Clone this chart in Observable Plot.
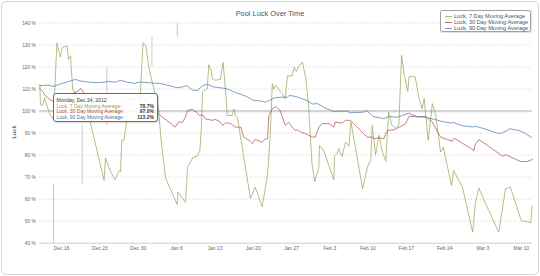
<!DOCTYPE html>
<html>
<head>
<meta charset="utf-8">
<script src="https://cdn.jsdelivr.net/npm/d3@7"></script>
<script src="https://cdn.jsdelivr.net/npm/@observablehq/plot@0.6"></script>
<style>
  body { margin: 0; background: #fff; font-family: "Liberation Sans", Arial, sans-serif; }
  #chart { position: relative; width: 540px; height: 276px; overflow: hidden; }
  #chart svg { position: absolute; left: 0; top: 0; }
  .frame { position: absolute; left: 1px; top: 1px; width: 536px; height: 272px; border: 1px solid #d6d6d6; border-radius: 5px; pointer-events: none; }
  .title { position: absolute; left: 0; top: 8.5px; width: 540px; text-align: center; font-size: 7.4px; color: #3E576F; white-space: nowrap; }
  .ytitle { position: absolute; left: 14px; top: 132px; transform: translate(-50%, -50%) rotate(-90deg); font-size: 5.6px; font-weight: bold; color: #4d759e; white-space: nowrap; }
  .legend { position: absolute; left: 440px; top: 10px; width: 89px; height: 20px; border: 1px solid #a0a0a0; border-radius: 2.5px; background: #fff; box-shadow: 0.5px 0.5px 1px rgba(0,0,0,0.12); }
  .legend .item { position: absolute; left: 4px; height: 6px; line-height: 6px; font-size: 5.6px; color: #3E576F; white-space: nowrap; }
  .legend .swatch { display: inline-block; width: 7px; height: 0; border-top: 1px solid; vertical-align: middle; margin-right: 2px; position: relative; top: -0.5px; opacity: 0.75; }
  .tooltip { position: absolute; left: 53px; top: 93px; width: 103px; height: 27px; border: 1px solid #4572A7; border-radius: 3px; background: rgba(255,255,255,0.88); box-shadow: 1px 1px 1.5px rgba(0,0,0,0.15); font-size: 5px; }
  .tooltip .row { position: absolute; left: 2.5px; right: 3px; height: 6px; line-height: 6px; white-space: nowrap; }
  .tooltip .row b { position: absolute; right: 0; color: #333; }
</style>
</head>
<body>
<div id="chart"></div>
<script>
// Luck moving averages, sampled irregularly (timestamps are UTC, "YYYY-MM-DD HH")
const sevenDayDates = [
  "2012-12-12 00","2012-12-12 03","2012-12-12 12","2012-12-12 21","2012-12-13 18","2012-12-14 12",
  "2012-12-15 03","2012-12-15 18","2012-12-16 03","2012-12-17 00","2012-12-17 06","2012-12-17 15",
  "2012-12-18 00","2012-12-19 12","2012-12-21 03","2012-12-23 18","2012-12-24 00","2012-12-24 21",
  "2012-12-25 18","2012-12-26 12","2012-12-26 18","2012-12-27 00","2012-12-27 09","2012-12-27 15",
  "2012-12-28 00","2012-12-29 03","2012-12-30 06","2012-12-30 21","2012-12-31 09","2012-12-31 21",
  "2013-01-01 18","2013-01-02 12","2013-01-02 18","2013-01-03 03","2013-01-04 00","2013-01-06 03",
  "2013-01-06 06","2013-01-07 09","2013-01-07 15","2013-01-08 00","2013-01-09 00","2013-01-09 18",
  "2013-01-10 06","2013-01-10 12","2013-01-10 18","2013-01-11 00","2013-01-11 15","2013-01-11 21",
  "2013-01-12 09","2013-01-12 12","2013-01-13 03","2013-01-14 00","2013-01-14 12","2013-01-15 00",
  "2013-01-15 06","2013-01-16 03","2013-01-16 12","2013-01-16 18","2013-01-17 03","2013-01-19 12",
  "2013-01-20 09","2013-01-20 18","2013-01-21 15","2013-01-22 00","2013-01-22 15","2013-01-23 03",
  "2013-01-23 12","2013-01-23 18","2013-01-24 03","2013-01-24 15","2013-01-25 06","2013-01-25 21",
  "2013-01-26 06","2013-01-27 03","2013-01-27 12","2013-01-27 21","2013-01-28 09","2013-01-29 00",
  "2013-01-29 15","2013-01-30 03","2013-01-30 18","2013-01-31 06","2013-01-31 18","2013-02-01 00",
  "2013-02-01 03","2013-02-01 21","2013-02-03 18","2013-02-03 21","2013-02-04 09","2013-02-04 15",
  "2013-02-05 06","2013-02-05 21","2013-02-06 12","2013-02-06 21","2013-02-09 00","2013-02-09 21",
  "2013-02-10 12","2013-02-10 18","2013-02-11 09","2013-02-12 00","2013-02-12 15","2013-02-13 06",
  "2013-02-13 18","2013-02-14 09","2013-02-15 00","2013-02-15 15","2013-02-16 03","2013-02-16 15",
  "2013-02-17 06","2013-02-17 12","2013-02-18 03","2013-02-18 15","2013-02-19 06","2013-02-19 21",
  "2013-02-20 06","2013-02-21 00","2013-02-21 18","2013-02-22 09","2013-02-23 06","2013-02-23 18",
  "2013-02-25 06","2013-02-25 15","2013-02-27 06","2013-03-01 03","2013-03-01 15","2013-03-02 06",
  "2013-03-03 12","2013-03-05 21","2013-03-07 03","2013-03-08 00","2013-03-10 00","2013-03-11 18",
  "2013-03-12 00"
];
const sevenDayLuck = [
  112.0, 103.0, 102.5, 106.0, 99.0, 96.0,
  131.0, 124.5, 129.0, 129.5, 123.5, 125.0,
  110.0, 104.0, 96.0, 68.5, 78.7, 72.8,
  68.8, 73.0, 72.3, 86.7, 86.7, 91.0,
  98.0, 100.0, 102.0, 131.0, 129.8, 120.5,
  111.0, 104.0, 99.5, 88.0, 69.5, 57.5,
  63.3, 59.4, 58.6, 74.5, 79.0, 79.4,
  82.0, 91.0, 108.6, 109.4, 110.2, 121.0,
  118.0, 114.7, 114.0, 114.5, 122.0, 108.0,
  98.0, 98.0, 101.0, 98.0, 97.0, 60.3,
  65.4, 63.0, 56.5, 61.8, 71.0, 89.0,
  112.4, 110.0, 111.6, 110.0, 108.0, 105.6,
  116.0, 116.0, 120.0, 118.0, 120.5, 122.2,
  114.7, 102.6, 76.0, 68.0, 72.5, 74.5,
  84.4, 82.1, 68.8, 79.4, 80.9, 82.9,
  79.4, 85.9, 84.0, 95.0, 64.7, 74.5,
  78.0, 93.5, 80.0, 89.0, 81.4, 77.2,
  99.5, 93.5, 92.3, 93.5, 125.3, 116.2,
  109.0, 115.5, 115.8, 115.5, 106.4, 101.1,
  105.6, 86.7, 103.4, 98.0, 81.4, 83.6,
  66.2, 73.0, 65.5, 45.0, 58.6, 65.0,
  57.9, 45.0, 64.7, 65.5, 50.3, 49.3,
  57.0
];

const thirtyDayDates = [
  "2012-12-12 00","2012-12-12 12","2012-12-13 00","2012-12-14 00","2012-12-14 21","2012-12-15 18",
  "2012-12-16 18","2012-12-17 15","2012-12-18 09","2012-12-18 21","2012-12-19 12","2012-12-20 00",
  "2012-12-20 21","2012-12-22 03","2012-12-24 00","2012-12-25 06","2012-12-26 18","2012-12-28 00",
  "2012-12-29 00","2012-12-30 00","2012-12-31 09","2013-01-01 06","2013-01-02 03","2013-01-02 18",
  "2013-01-03 09","2013-01-04 15","2013-01-05 18","2013-01-06 09","2013-01-07 03","2013-01-07 15",
  "2013-01-08 00","2013-01-08 21","2013-01-09 18","2013-01-10 03","2013-01-10 18","2013-01-11 06",
  "2013-01-12 12","2013-01-13 03","2013-01-14 00","2013-01-14 09","2013-01-15 00","2013-01-15 21",
  "2013-01-16 18","2013-01-17 18","2013-01-18 06","2013-01-19 06","2013-01-19 21","2013-01-20 09",
  "2013-01-21 15","2013-01-22 06","2013-01-22 15","2013-01-22 21","2013-01-23 12","2013-01-24 03",
  "2013-01-24 21","2013-01-25 21","2013-01-26 12","2013-01-27 03","2013-01-27 18","2013-01-28 03",
  "2013-01-28 15","2013-01-29 15","2013-01-30 18","2013-01-31 09","2013-02-01 00","2013-02-01 15",
  "2013-02-02 21","2013-02-03 18","2013-02-04 00","2013-02-05 06","2013-02-05 21","2013-02-06 18",
  "2013-02-07 09","2013-02-08 00","2013-02-08 15","2013-02-09 06","2013-02-09 21","2013-02-10 18",
  "2013-02-11 00","2013-02-12 00","2013-02-12 21","2013-02-13 12","2013-02-14 18","2013-02-15 09",
  "2013-02-16 00","2013-02-16 21","2013-02-17 12","2013-02-18 09","2013-02-19 00","2013-02-19 21",
  "2013-02-20 12","2013-02-21 00","2013-02-21 18","2013-02-23 06","2013-02-25 09","2013-02-25 18",
  "2013-03-01 09","2013-03-01 12","2013-03-02 06","2013-03-06 15","2013-03-07 03","2013-03-09 21",
  "2013-03-11 03","2013-03-12 00"
];
const thirtyDayLuck = [
  110.2, 109.0, 107.0, 105.0, 104.0, 105.5,
  106.0, 107.0, 108.5, 109.0, 110.2, 108.6,
  105.0, 101.0, 97.0, 99.0, 102.0, 106.0,
  105.0, 106.5, 105.0, 103.0, 99.5, 98.8,
  97.3, 95.0, 92.7, 95.0, 95.0, 97.3,
  100.3, 100.8, 99.3, 98.0, 98.3, 96.5,
  95.8, 96.2, 95.0, 93.5, 94.7, 94.3,
  92.7, 92.7, 88.2, 86.7, 85.2, 87.1,
  85.9, 87.4, 87.4, 98.0, 101.1, 102.0,
  100.5, 93.5, 95.0, 92.7, 91.2, 91.5,
  90.5, 89.7, 88.2, 88.2, 92.7, 94.3,
  94.3, 92.7, 95.0, 94.5, 95.8, 95.8,
  94.3, 92.7, 91.2, 89.5, 88.2, 88.2,
  87.4, 87.9, 87.4, 91.2, 91.5, 92.3,
  93.0, 94.3, 97.6, 97.6, 97.3, 97.5,
  97.6, 96.5, 95.0, 88.2, 86.3, 87.7,
  82.1, 84.4, 87.1, 79.5, 80.2, 77.1,
  77.1, 78.0
];

const ninetyDayDates = [
  "2012-12-12 00","2012-12-13 09","2012-12-14 12","2012-12-15 18","2012-12-17 00","2012-12-18 12",
  "2012-12-19 12","2012-12-20 18","2012-12-22 12","2012-12-24 00","2012-12-24 12","2012-12-25 21",
  "2012-12-26 18","2012-12-27 21","2012-12-29 06","2012-12-30 09","2013-01-01 06","2013-01-03 03",
  "2013-01-04 21","2013-01-06 03","2013-01-07 03","2013-01-07 21","2013-01-08 21","2013-01-09 21",
  "2013-01-10 18","2013-01-11 15","2013-01-12 18","2013-01-13 21","2013-01-15 03","2013-01-17 00",
  "2013-01-18 18","2013-01-19 21","2013-01-21 09","2013-01-22 06","2013-01-23 00","2013-01-23 21",
  "2013-01-25 00","2013-01-26 06","2013-01-26 15","2013-01-27 21","2013-01-29 15","2013-01-30 21",
  "2013-01-31 18","2013-02-02 06","2013-02-03 18","2013-02-05 00","2013-02-06 03","2013-02-06 18",
  "2013-02-09 03","2013-02-09 18","2013-02-11 00","2013-02-12 21","2013-02-13 18","2013-02-15 09",
  "2013-02-16 06","2013-02-17 09","2013-02-18 21","2013-02-20 21","2013-02-22 00","2013-02-23 15",
  "2013-02-25 03","2013-02-25 12","2013-02-27 06","2013-03-01 03","2013-03-01 15","2013-03-03 12",
  "2013-03-04 18","2013-03-05 21","2013-03-06 18","2013-03-08 00","2013-03-09 18","2013-03-10 18",
  "2013-03-11 21"
];
const ninetyDayLuck = [
  111.5, 111.8, 111.2, 112.3, 113.2, 114.4,
  113.6, 113.2, 112.9, 113.2, 113.5, 113.1,
  114.0, 113.2, 112.6, 113.2, 112.8, 112.5,
  111.4, 110.6, 111.0, 111.6, 109.5, 109.4,
  111.5, 112.2, 111.0, 110.6, 110.2, 108.2,
  106.7, 105.0, 104.6, 104.0, 104.9, 106.0,
  106.3, 106.3, 107.1, 106.6, 105.0, 103.2,
  103.4, 101.3, 99.8, 100.0, 100.0, 99.2,
  99.5, 100.2, 97.5, 96.6, 97.5, 97.2,
  98.0, 99.0, 97.6, 97.0, 96.3, 95.2,
  94.6, 94.9, 93.3, 92.8, 93.1, 91.8,
  90.7, 89.8, 90.3, 92.0, 91.0, 89.9,
  88.0
];

// Grey step marks: date, bottom and top of each vertical stroke
const stepDates = ["2012-12-14 12", "2012-12-19 18", "2012-12-24 06", "2013-01-01 12", "2013-01-06 03"];
const stepLow   = [40.0, 66.7, 93.5, 120.0, 133.6];
const stepHigh  = [66.7, 93.5, 120.0, 133.6, 140.0];

const seriesNames = ["Luck, 7 Day Moving Average", "Luck, 30 Day Moving Average", "Luck, 90 Day Moving Average"];
const seriesColors = ["#89A54E", "#AA4643", "#4572A7"];
const yTicks = [40, 50, 60, 70, 80, 90, 100, 110, 120, 130, 140];
const xTicks = ["2012-12-16 00","2012-12-23 00","2012-12-30 00","2013-01-06 00","2013-01-13 00","2013-01-20 00",
                "2013-01-27 00","2013-02-03 00","2013-02-10 00","2013-02-17 00","2013-02-24 00","2013-03-03 00","2013-03-10 00"];
const xStart = "2012-12-12 00", xEnd = "2013-03-12 00";
const hoverDate = "2012-12-24 00";

const parse = d3.utcParse("%Y-%m-%d %H");
const toRows = (dates, values) => dates.map((d, i) => ({date: parse(d), luck: values[i]}));
const series = [
  toRows(sevenDayDates, sevenDayLuck),
  toRows(thirtyDayDates, thirtyDayLuck),
  toRows(ninetyDayDates, ninetyDayLuck)
];
const steps = stepDates.map((d, i) => ({date: parse(d), low: stepLow[i], high: stepHigh[i]}));

const chart = Plot.plot({
  width: 540,
  height: 276,
  marginLeft: 39.3,
  marginRight: 8.3,
  marginTop: 22.5,
  marginBottom: 33.3,
  style: {fontFamily: "'Liberation Sans', Arial, sans-serif", color: "#666", background: "transparent", overflow: "visible"},
  x: {type: "utc", domain: [parse(xStart), parse(xEnd)]},
  y: {domain: [40, 140]},
  marks: [
    Plot.ruleY(yTicks.filter(t => t > 40), {stroke: "#cfcfcf", strokeDasharray: "1,2"}),
    Plot.ruleY([100], {stroke: "#d4d4d4", strokeWidth: 2.4}),
    Plot.ruleY([40], {stroke: "#C0D0E0"}),
    Plot.ruleX(steps, {x: "date", y1: "low", y2: "high", stroke: "#cacaca", strokeWidth: 1}),
    ...series.map((rows, i) => Plot.line(rows, {x: "date", y: "luck", stroke: seriesColors[i], strokeWidth: 1, strokeOpacity: 0.68})),
    Plot.axisY({ticks: yTicks, tickSize: 0, tickPadding: 4, tickFormat: d => d + " %", fontSize: 4.8, label: null}),
    Plot.axisX({ticks: xTicks.map(parse), tickSize: 0, tickPadding: 3, tickFormat: d3.utcFormat("%b %-d"), fontSize: 5, label: null})
  ]
});

const root = document.getElementById("chart");
root.appendChild(chart);

const title = document.createElement("div");
title.className = "title";
title.textContent = "Pool Luck Over Time";
root.appendChild(title);

const ytitle = document.createElement("div");
ytitle.className = "ytitle";
ytitle.textContent = "Luck";
root.appendChild(ytitle);

// Legend box
const legend = document.createElement("div");
legend.className = "legend";
seriesNames.forEach((name, i) => {
  const item = document.createElement("div");
  item.className = "item";
  item.style.top = (2 + i * 6) + "px";
  const sw = document.createElement("span");
  sw.className = "swatch";
  sw.style.borderColor = seriesColors[i];
  item.appendChild(sw);
  item.appendChild(document.createTextNode(name));
  legend.appendChild(item);
});
root.appendChild(legend);

// Shared tooltip for the hovered day, values read from the series
const fmtDay = d3.utcFormat("%A, %b %-d, %Y");
const hover = parse(hoverDate);
const tip = document.createElement("div");
tip.className = "tooltip";
const head = document.createElement("div");
head.className = "row";
head.style.top = "2.5px";
head.style.color = "#333";
head.textContent = fmtDay(hover);
tip.appendChild(head);
series.forEach((rows, i) => {
  const pt = rows.find(r => +r.date === +hover);
  const row = document.createElement("div");
  row.className = "row";
  row.style.top = (8.5 + i * 5.8) + "px";
  row.style.color = seriesColors[i];
  row.appendChild(document.createTextNode(seriesNames[i] + ":"));
  const b = document.createElement("b");
  b.textContent = pt.luck.toFixed(1) + "%";
  row.appendChild(b);
  tip.appendChild(row);
});
root.appendChild(tip);

const frame = document.createElement("div");
frame.className = "frame";
root.appendChild(frame);
</script>
</body>
</html>
